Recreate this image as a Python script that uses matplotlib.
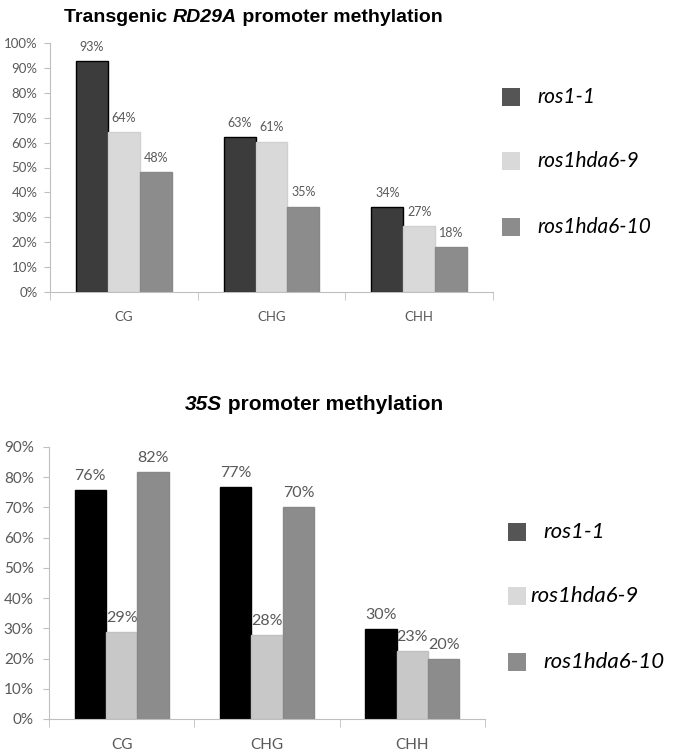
import matplotlib
matplotlib.use('Agg')
import matplotlib.pyplot as plt
import numpy as np
from matplotlib.patches import Rectangle

W, H = 675, 753
DPI = 100

categories = ['CG', 'CHG', 'CHH']
series = ['ros1-1', 'ros1hda6-9', 'ros1hda6-10']

# top chart: transgenic RD29A promoter
rd29a_vals = [[92.8, 62.2, 34.1],
              [64.3, 60.4, 26.5],
              [48.2, 34.3, 18.0]]
rd29a_labels = [['93%', '63%', '34%'],
                ['64%', '61%', '27%'],
                ['48%', '35%', '18%']]
rd29a_ticks = [0, 10, 20, 30, 40, 50, 60, 70, 80, 90, 100]

# bottom chart: 35S promoter
s35_vals = [[75.8, 76.8, 29.8],
            [28.8, 27.8, 22.6],
            [81.8, 70.2, 19.9]]
s35_labels = [['76%', '77%', '30%'],
              ['29%', '28%', '23%'],
              ['82%', '70%', '20%']]
s35_ticks = [0, 10, 20, 30, 40, 50, 60, 70, 80, 90]

TICK_GRAY = '#595959'
AXIS_GRAY = '#bfbfbf'
FONT = 'Lato'
TFONT = 'Liberation Sans'


def px(x, y):
    """pixel position (from top-left) to figure fraction"""
    return x / W, 1 - y / H


def bar_chart(ax, vals, labels, ticks, faces, edges, fs, lab_fs, pad, ypad):
    x = np.arange(len(categories))
    bw = 0.216
    for i in range(len(series)):
        pos = x + (i - 1) * bw
        ax.bar(pos, vals[i], bw, color=faces[i], edgecolor=edges[i], linewidth=1.0, zorder=2)
        for p, v, t in zip(pos, vals[i], labels[i]):
            ax.annotate(t, (p, v), xytext=(0, pad), textcoords='offset points',
                        ha='center', va='bottom', fontsize=lab_fs, family=FONT, color=TICK_GRAY)
    ax.set_xlim(-0.5, len(categories) - 0.5)
    ax.set_ylim(0, ticks[-1])
    ax.set_yticks(ticks)
    ax.set_yticklabels(['%d%%' % t for t in ticks], fontsize=fs, family=FONT, color=TICK_GRAY)
    ax.set_xticks(x)
    ax.set_xticklabels(categories, fontsize=fs, family=FONT, color=TICK_GRAY)
    ax.set_xticks(np.arange(len(categories) + 1) - 0.5, minor=True)
    ax.tick_params(axis='x', which='major', length=0, pad=14)
    ax.tick_params(axis='x', which='minor', length=6, color=AXIS_GRAY, direction='out')
    ax.tick_params(axis='y', length=4, color=AXIS_GRAY, direction='out', pad=ypad)
    for s in ['top', 'right']:
        ax.spines[s].set_visible(False)
    for s in ['left', 'bottom']:
        ax.spines[s].set_color(AXIS_GRAY)


def title_pieces(fig, x, y, pieces, size, weight):
    r = fig.canvas.get_renderer()
    for txt, style in pieces:
        t = fig.text(x, y, txt, fontsize=size, fontweight=weight, style=style,
                     family=TFONT, ha='left', va='center', color='black')
        bb = t.get_window_extent(renderer=r)
        x += bb.width / (W)


def legend(fig, x0, y_rows, colors, text_x, size):
    for (y, c, lab, tx) in zip(y_rows, colors, series, text_x):
        fx, fy = px(x0, y + 9)
        fig.patches.append(Rectangle((fx, fy), 18 / W, 18 / H, transform=fig.transFigure,
                                     facecolor=c, edgecolor='none'))
        gx, gy = px(tx, y)
        fig.text(gx, gy, lab, fontsize=size, style='italic', family=FONT,
                 ha='left', va='center', color='black')


fig = plt.figure(figsize=(W / DPI, H / DPI), dpi=DPI)

ax1 = fig.add_axes([50 / W, 1 - 292 / H, 443 / W, 249 / H])
bar_chart(ax1, rd29a_vals, rd29a_labels, rd29a_ticks,
          ['#3c3c3c', '#d9d9d9', '#8c8c8c'], ['black', '#d0d0d0', '#888888'], 9.5, 9, 6, 5)

ax2 = fig.add_axes([49 / W, 1 - 719 / H, 436 / W, 272 / H])
bar_chart(ax2, s35_vals, s35_labels, s35_ticks,
          ['black', '#c8c8c8', '#8c8c8c'], ['black', '#c0c0c0', '#888888'], 11, 11.5, 5, 7)

fig.canvas.draw()
title_pieces(fig, 64 / W, 1 - 17 / H,
             [('Transgenic ', 'normal'), ('RD29A', 'italic'), (' promoter methylation', 'normal')],
             14, 'bold')
title_pieces(fig, 185 / W, 1 - 405 / H,
             [('35S', 'italic'), (' promoter methylation', 'normal')], 15, 'bold')

legend(fig, 502, [97, 161, 227], ['#555555', '#d9d9d9', '#8c8c8c'], [537, 537, 537], 15)
legend(fig, 508, [532, 596, 662], ['#555555', '#d9d9d9', '#8c8c8c'], [543, 530, 543], 16)

fig.savefig('out.png', dpi=DPI, facecolor='white')
